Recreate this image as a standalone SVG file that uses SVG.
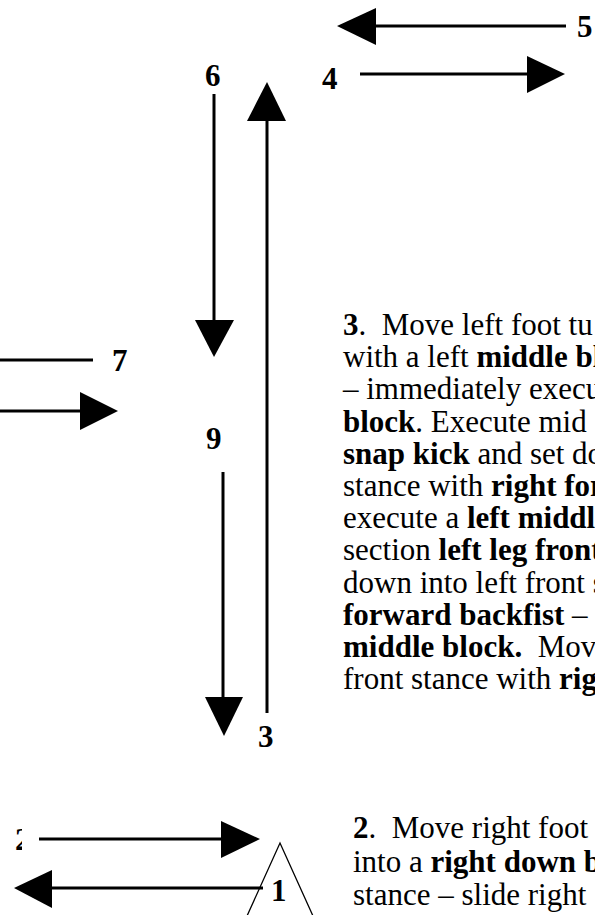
<svg xmlns="http://www.w3.org/2000/svg" width="595" height="915" viewBox="0 0 595 915">
<style>
text{font-family:"Liberation Serif","Times New Roman",serif;font-size:31px;fill:#000;white-space:pre}
.b{font-weight:bold}
.ln{stroke:#000;stroke-width:3;fill:none}
.hd{fill:#000;stroke:none}
.thin{stroke:#000;stroke-width:1.3;fill:none}
</style>
<defs>
<clipPath id="c2"><rect x="0" y="800" width="22" height="60"/></clipPath>
</defs>
<g id="connectors">
<line class="ln" x1="566" y1="26" x2="374" y2="26"/>
<polygon class="hd" points="337,26 376,8 376,45"/>
<line class="ln" x1="360" y1="74" x2="529" y2="74"/>
<polygon class="hd" points="527,56 527,93 565,74"/>
<line class="ln" x1="214" y1="94" x2="214" y2="322"/>
<polygon class="hd" points="195,320 234,320 214,357"/>
<line class="ln" x1="267" y1="713" x2="267" y2="118"/>
<polygon class="hd" points="247,121 286,121 267,82"/>
<line class="ln" x1="0" y1="360" x2="93" y2="360"/>
<line class="ln" x1="0" y1="411" x2="82" y2="411"/>
<polygon class="hd" points="80,392 80,430 118,411"/>
<line class="ln" x1="223" y1="472" x2="223" y2="699"/>
<polygon class="hd" points="205,697 243,697 224,736"/>
<line class="ln" x1="39" y1="839" x2="223" y2="839"/>
<polygon class="hd" points="221,821 221,858 260,839"/>
<line class="ln" x1="263" y1="888" x2="50" y2="888"/>
<polygon class="hd" points="52,870 52,908 14,888"/>
</g>
<g id="n5"><text class="b" x="577" y="37">5</text></g>
<g id="n4"><text class="b" x="322" y="89">4</text></g>
<g id="n6"><text class="b" x="205" y="86">6</text></g>
<g id="n3"><text class="b" x="258" y="747">3</text></g>
<g id="n7"><text class="b" x="112" y="371">7</text></g>
<g id="n9"><text class="b" x="206" y="449">9</text></g>
<g id="n2"><text class="b" x="15" y="850" clip-path="url(#c2)">2</text></g>
<g id="n1">
<polyline class="thin" points="247,916 280,843 313,916"/>
<text class="b" x="271" y="901">1</text>
</g>
<g id="text3">
<text x="343" y="335"><tspan class="b">3</tspan>.  Move left foot tu</text>
<text x="343" y="367">with a left <tspan class="b">middle bl</tspan></text>
<text x="343" y="399">– immediately execu</text>
<text x="343" y="432"><tspan class="b">block</tspan>. Execute mid s</text>
<text x="343" y="464"><tspan class="b">snap kick</tspan> and set do</text>
<text x="343" y="496">stance with <tspan class="b">right for</tspan></text>
<text x="343" y="528">execute a <tspan class="b">left middl</tspan></text>
<text x="343" y="560">section <tspan class="b">left leg front</tspan></text>
<text x="343" y="593">down into left front s</text>
<text x="343" y="625"><tspan class="b">forward backfist</tspan> – e</text>
<text x="343" y="657"><tspan class="b">middle block.</tspan>  Mov</text>
<text x="343" y="689">front stance with <tspan class="b">rig</tspan></text>
</g>
<g id="text2">
<text x="353" y="838"><tspan class="b">2</tspan>.  Move right foot</text>
<text x="353" y="872">into a <tspan class="b">right down b</tspan></text>
<text x="353" y="905">stance – slide right</text>
</g>
</svg>
